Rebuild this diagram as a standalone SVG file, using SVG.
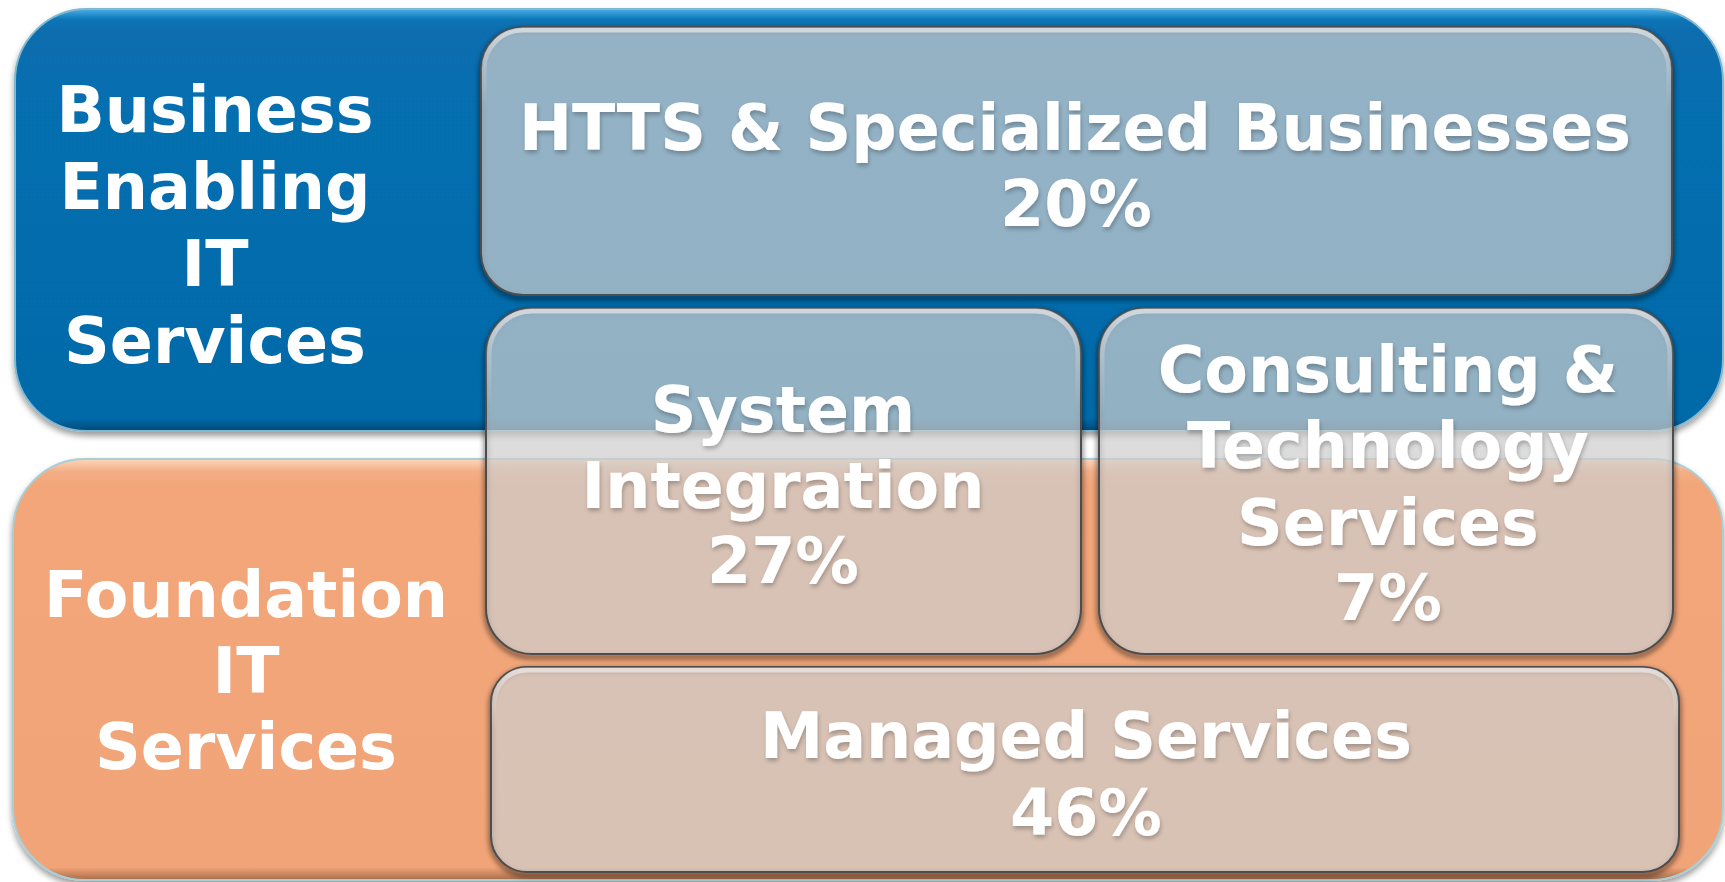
<svg xmlns="http://www.w3.org/2000/svg" width="1725" height="882" viewBox="0 0 1725 882">
<style>
.t{font-family:"DejaVu Sans","Verdana",sans-serif;font-weight:bold;fill:#ffffff;text-anchor:middle}
.lbl{font-size:63.5px}
.bx{font-size:63.5px;filter:url(#ts)}
.box{fill:#cecece;fill-opacity:0.71;stroke:#4d4d4d;stroke-width:2}
.sh{fill:none;stroke:#000000;stroke-opacity:0.45;stroke-width:5;filter:url(#blur)}
.gl{fill:none;stroke:url(#gloss);stroke-width:5}
</style>
<defs>
<linearGradient id="gloss" x1="0" y1="0" x2="0" y2="1">
<stop offset="0" stop-color="#ffffff" stop-opacity="0.55"/>
<stop offset="0.12" stop-color="#ffffff" stop-opacity="0.25"/>
<stop offset="0.3" stop-color="#ffffff" stop-opacity="0"/>
</linearGradient>
<linearGradient id="blueG" x1="0" y1="0" x2="0" y2="1">
<stop offset="0" stop-color="#4aaee8"/>
<stop offset="0.025" stop-color="#0b75b6"/>
<stop offset="0.05" stop-color="#076dae"/>
<stop offset="0.97" stop-color="#066aa9"/>
<stop offset="1" stop-color="#034a78"/>
</linearGradient>
<linearGradient id="orG" x1="0" y1="0" x2="0" y2="1">
<stop offset="0" stop-color="#fcd7bb"/>
<stop offset="0.03" stop-color="#f4ae85"/>
<stop offset="0.06" stop-color="#f2a67a"/>
<stop offset="0.97" stop-color="#f1a477"/>
<stop offset="1" stop-color="#a86c4a"/>
</linearGradient>
<filter id="blur" x="-5%" y="-5%" width="110%" height="115%">
<feGaussianBlur stdDeviation="2.5"/>
</filter>
<filter id="ds" x="-5%" y="-5%" width="110%" height="115%">
<feGaussianBlur in="SourceAlpha" stdDeviation="3"/>
<feOffset dx="0" dy="4" result="b"/>
<feComponentTransfer><feFuncA type="linear" slope="0.4"/></feComponentTransfer>
<feMerge><feMergeNode/><feMergeNode in="SourceGraphic"/></feMerge>
</filter>
<filter id="ts" x="-5%" y="-10%" width="110%" height="130%">
<feGaussianBlur in="SourceAlpha" stdDeviation="2"/>
<feOffset dx="1" dy="3" result="b"/>
<feComponentTransfer><feFuncA type="linear" slope="0.25"/></feComponentTransfer>
<feMerge><feMergeNode/><feMergeNode in="SourceGraphic"/></feMerge>
</filter>
</defs>
<rect width="1725" height="882" fill="#ffffff"/>

<g id="business-enabling">
<rect x="15" y="9" width="1708" height="422" rx="72" ry="72" fill="url(#blueG)" stroke="#7fb8cf" stroke-width="2" filter="url(#ds)"/>
<text class="t lbl" x="215" y="132">Business</text>
<text class="t lbl" x="215" y="209">Enabling</text>
<text class="t lbl" x="215" y="286">IT</text>
<text class="t lbl" x="215" y="363">Services</text>
</g>

<g id="foundation">
<rect x="13" y="459" width="1710" height="421" rx="72" ry="72" fill="url(#orG)" stroke="#a8cfd6" stroke-width="2" filter="url(#ds)"/>
<text class="t lbl" x="246" y="617">Foundation</text>
<text class="t lbl" x="246" y="693">IT</text>
<text class="t lbl" x="246" y="769">Services</text>
</g>

<g id="htts">
<rect class="sh" x="481" y="30" width="1191" height="268" rx="42" ry="42"/>
<rect class="box" x="481" y="27" width="1191" height="268" rx="42" ry="42"/>
<rect class="gl" x="484" y="30" width="1185" height="262" rx="39" ry="39"/>
<text class="t bx" x="1075" y="150">HTTS &amp; Specialized Businesses</text>
<text class="t bx" x="1076" y="226">20%</text>
</g>

<g id="system-integration">
<rect class="sh" x="486" y="311" width="595" height="346" rx="46" ry="46"/>
<rect class="box" x="486" y="308" width="595" height="346" rx="46" ry="46"/>
<rect class="gl" x="489" y="311" width="589" height="340" rx="43" ry="43"/>
<text class="t bx" x="783" y="432">System</text>
<text class="t bx" x="783" y="508">Integration</text>
<text class="t bx" x="783" y="583">27%</text>
</g>

<g id="consulting">
<rect class="sh" x="1099" y="311" width="574" height="346" rx="46" ry="46"/>
<rect class="box" x="1099" y="308" width="574" height="346" rx="46" ry="46"/>
<rect class="gl" x="1102" y="311" width="568" height="340" rx="43" ry="43"/>
<text class="t bx" x="1388" y="392">Consulting &amp;</text>
<text class="t bx" x="1388" y="468">Technology</text>
<text class="t bx" x="1388" y="545">Services</text>
<text class="t bx" x="1388" y="620">7%</text>
</g>

<g id="managed-services">
<rect class="sh" x="491" y="670" width="1188" height="205" rx="36" ry="36"/>
<rect class="box" x="491" y="667" width="1188" height="205" rx="36" ry="36"/>
<rect class="gl" x="494" y="670" width="1182" height="199" rx="33" ry="33"/>
<text class="t bx" x="1086" y="758">Managed Services</text>
<text class="t bx" x="1086" y="835">46%</text>
</g>

<g id="connectors"></g>
</svg>
